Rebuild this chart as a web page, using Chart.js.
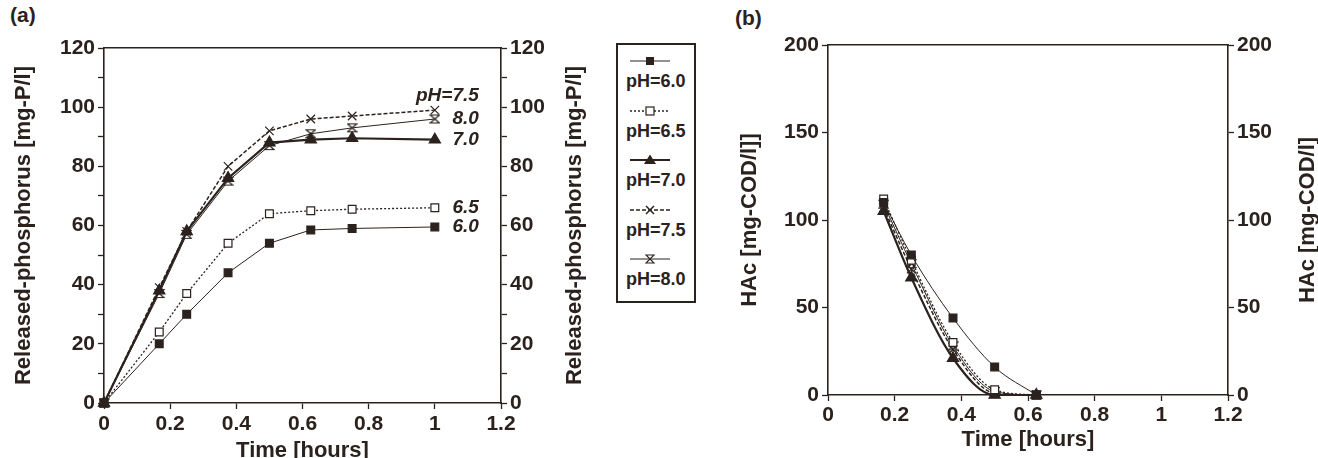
<!DOCTYPE html>
<html>
<head>
<meta charset="utf-8">
<script src="https://cdn.jsdelivr.net/npm/chart.js@4.4.1/dist/chart.umd.min.js"></script>
<style>
  body { margin: 0; background: #fff; width: 1318px; height: 458px; overflow: hidden; position: relative;
         font-family: 'Liberation Sans', Arial, sans-serif; color: #2b221e; }
  .panel { position: absolute; top: 0; height: 458px; }
  .tag { position: absolute; font-weight: bold; font-size: 21px; }
  #legend { position: absolute; left: 616px; top: 43px; width: 80px; height: 260px; border: 2px solid #2b221e; box-sizing: border-box; }
  .item { position: absolute; left: 8px; font-weight: bold; font-size: 18px; line-height: 20px; }
  .item svg { display: block; margin-left: 4px; }
</style>
</head>
<body>
<div class="tag" style="left:10px;top:3px">(a)</div>
<div class="tag" style="left:735px;top:6px">(b)</div>
<div class="panel" style="left:0;width:610px"><canvas id="chartA"></canvas></div>
<div id="legend"></div>
<div class="panel" style="left:720px;width:598px"><canvas id="chartB"></canvas></div>
<script>
const INK = '#2b221e';

// Dados
const seriesNames = ['pH=6.0', 'pH=6.5', 'pH=7.0', 'pH=7.5', 'pH=8.0'];
const endLabels = ['6.0', '6.5', '7.0', 'pH=7.5', '8.0'];

const timeA = [0, 0.167, 0.25, 0.375, 0.5, 0.625, 0.75, 1.0];
const phosph60 = [0, 20, 30, 44, 54, 58.5, 59, 59.5];
const phosph65 = [0, 24, 37, 54, 64, 65, 65.5, 66];
const phosph70 = [0, 38, 58, 76, 88, 89, 89.5, 89];
const phosph75 = [0, 39, 58, 80, 92, 96, 97, 99];
const phosph80 = [0, 37, 57, 75, 87, 91, 93, 96];

const timeB = [0.167, 0.25, 0.375, 0.5, 0.625];
const hac60 = [110, 80, 44, 16, 0];
const hac65 = [112, 77, 30, 3, 0];
const hac70 = [105, 67, 21, 0, 0];
const hac75 = [107, 72, 26, 1, 0];
const hac80 = [109, 75, 28, 2, 0];

const xTicks = [0, 0.2, 0.4, 0.6, 0.8, 1, 1.2];
const yTicksA = [0, 10, 20, 30, 40, 50, 60, 70, 80, 90, 100, 110, 120];
const yTicksB = [0, 50, 100, 150, 200];

// Marcador em forma de ampulheta (pH=8.0)
function ampulheta() {
  const c = document.createElement('canvas');
  c.width = 11; c.height = 11;
  const g = c.getContext('2d');
  g.fillStyle = '#fff';
  g.strokeStyle = INK;
  g.lineWidth = 1.2;
  g.beginPath();
  g.moveTo(1, 1.5); g.lineTo(10, 1.5); g.lineTo(1, 9.5); g.lineTo(10, 9.5); g.closePath();
  g.fill(); g.stroke();
  return c;
}

const estilos = [
  { pointStyle: 'rect', radius: 5.5, fill: INK, width: 1, dash: [] },
  { pointStyle: 'rect', radius: 5.5, fill: '#fff', width: 1.3, dash: [2, 2] },
  { pointStyle: 'triangle', radius: 6.5, fill: INK, width: 2.2, dash: [] },
  { pointStyle: 'crossRot', radius: 6, fill: INK, width: 1.5, dash: [4, 2] },
  { pointStyle: ampulheta(), radius: 5, fill: '#fff', width: 1, dash: [] }
];

function montarDatasets(tempos, series, suave) {
  return series.map((vals, i) => ({
    label: seriesNames[i],
    data: tempos.map((t, k) => ({ x: t, y: vals[k] })),
    borderColor: INK,
    borderWidth: estilos[i].width,
    borderDash: estilos[i].dash,
    pointStyle: estilos[i].pointStyle,
    pointRadius: estilos[i].radius,
    pointBackgroundColor: estilos[i].fill,
    pointBorderColor: INK,
    pointBorderWidth: 1.2,
    cubicInterpolationMode: suave ? 'monotone' : 'default',
    tension: 0,
    clip: false
  }));
}

const fonteTick = { family: 'Liberation Sans', weight: 'bold', size: 21 };
const fonteTitulo = { family: 'Liberation Sans', weight: 'bold', size: 22 };

function eixoY(pos, ticks, rotulo, largura, titulo, padTitulo) {
  return {
    type: 'linear', position: pos,
    min: ticks[0], max: ticks[ticks.length - 1],
    afterBuildTicks: s => { s.ticks = ticks.map(v => ({ value: v })); },
    afterFit: s => { s.width = largura; },
    border: { color: INK, width: 1.6 },
    grid: { drawOnChartArea: false, tickLength: 6, tickColor: INK, tickWidth: 1.3 },
    ticks: { color: INK, font: fonteTick, padding: 3, callback: rotulo },
    title: { display: !!titulo, text: titulo, color: INK, font: fonteTitulo, padding: { top: padTitulo, bottom: 0 } }
  };
}

function eixosX(alturaEixo, padTitulo, padTick) {
  return {
    x: {
      type: 'linear', position: 'bottom', min: 0, max: 1.2,
      afterBuildTicks: s => { s.ticks = xTicks.map(v => ({ value: v })); },
      afterFit: s => { s.height = alturaEixo; },
      border: { color: INK, width: 1.6 },
      grid: { drawOnChartArea: false, tickLength: 6, tickColor: INK, tickWidth: 1.3 },
      ticks: { color: INK, font: fonteTick, padding: padTick, maxRotation: 0, callback: v => String(+v.toFixed(1)) },
      title: { display: true, text: 'Time [hours]', color: INK, font: fonteTitulo, padding: { top: 0, bottom: padTitulo } }
    },
    xt: {
      type: 'linear', position: 'top', min: 0, max: 1.2,
      afterFit: s => { s.height = 0; },
      border: { color: INK, width: 1.6 },
      grid: { drawOnChartArea: false, drawTicks: false },
      ticks: { display: false }
    }
  };
}

// Título do eixo direito, lido de baixo para cima
function tituloDireito(texto, x) {
  return {
    id: 'tituloDireito',
    afterDraw(chart) {
      const { ctx, chartArea } = chart;
      ctx.save();
      ctx.translate(x, (chartArea.top + chartArea.bottom) / 2);
      ctx.rotate(-Math.PI / 2);
      ctx.font = 'bold 22px "Liberation Sans"';
      ctx.fillStyle = INK;
      ctx.textAlign = 'center';
      ctx.textBaseline = 'middle';
      ctx.fillText(texto, 0, 0);
      ctx.restore();
    }
  };
}

// Rótulos em itálico no fim das curvas (a)
const rotulosFinais = {
  id: 'rotulosFinais',
  afterDatasetsDraw(chart) {
    const { ctx } = chart;
    ctx.save();
    ctx.font = 'italic bold 19px "Liberation Sans"';
    ctx.fillStyle = INK;
    ctx.textAlign = 'right';
    ctx.textBaseline = 'middle';
    chart.data.datasets.forEach((ds, i) => {
      const pts = chart.getDatasetMeta(i).data;
      const p = pts[pts.length - 1];
      const dy = endLabels[i].startsWith('pH') ? -14 : 0;
      ctx.fillText(endLabels[i], p.x + 44, p.y + dy);
    });
    ctx.restore();
  }
};

const rotuloA = v => (v % 20 === 0 ? String(v) : '');

new Chart(document.getElementById('chartA'), {
  type: 'line',
  data: { datasets: montarDatasets(timeA, [phosph60, phosph65, phosph70, phosph75, phosph80], false) },
  options: {
    responsive: true, maintainAspectRatio: false, animation: false,
    layout: { padding: { top: 48, left: 0, right: 0, bottom: 0 } },
    plugins: { legend: { display: false }, tooltip: { enabled: false } },
    scales: {
      ...eixosX(55, -6, 3),
      y: eixoY('left', yTicksA, rotuloA, 104, 'Released-phosphorus [mg-P/l]', 11),
      y2: eixoY('right', yTicksA, rotuloA, 109, '', 0)
    }
  },
  plugins: [tituloDireito('Released-phosphorus [mg-P/l]', 575), rotulosFinais]
});

new Chart(document.getElementById('chartB'), {
  type: 'line',
  data: { datasets: montarDatasets(timeB, [hac60, hac65, hac70, hac75, hac80], true) },
  options: {
    responsive: true, maintainAspectRatio: false, animation: false,
    layout: { padding: { top: 45, left: 0, right: 0, bottom: 0 } },
    plugins: { legend: { display: false }, tooltip: { enabled: false } },
    scales: {
      ...eixosX(63, 5, 2),
      y: eixoY('left', yTicksB, v => String(v), 108, 'HAc [mg-COD/l]]', 17),
      y2: eixoY('right', yTicksB, v => String(v), 90, '', 0)
    }
  },
  plugins: [tituloDireito('HAc [mg-COD/l]', 588)]
});

// Legenda montada em HTML
const legenda = document.getElementById('legend');
const marcadoresSvg = [
  '<rect x="16" y="2" width="8" height="8" fill="' + INK + '"/>',
  '<rect x="16" y="2" width="8" height="8" fill="#fff" stroke="' + INK + '" stroke-width="1.2"/>',
  '<polygon points="20,0.5 26,10 14,10" fill="' + INK + '"/>',
  '<path d="M16,2 L24,10 M24,2 L16,10" stroke="' + INK + '" stroke-width="1.5"/>',
  '<path d="M16,2 L24,2 L16,10 L24,10 Z" fill="#fff" stroke="' + INK + '" stroke-width="1.1"/>'
];
seriesNames.forEach((nome, i) => {
  const e = estilos[i];
  const item = document.createElement('div');
  item.className = 'item';
  item.style.top = (10 + i * 49.5) + 'px';
  item.innerHTML =
    '<svg width="40" height="12"><line x1="0" y1="6" x2="40" y2="6" stroke="' + INK +
    '" stroke-width="' + e.width + '" stroke-dasharray="' + e.dash.join(',') + '"/>' +
    marcadoresSvg[i] + '</svg><div style="margin-top:4px">' + nome + '</div>';
  legenda.appendChild(item);
});
</script>
</body>
</html>
